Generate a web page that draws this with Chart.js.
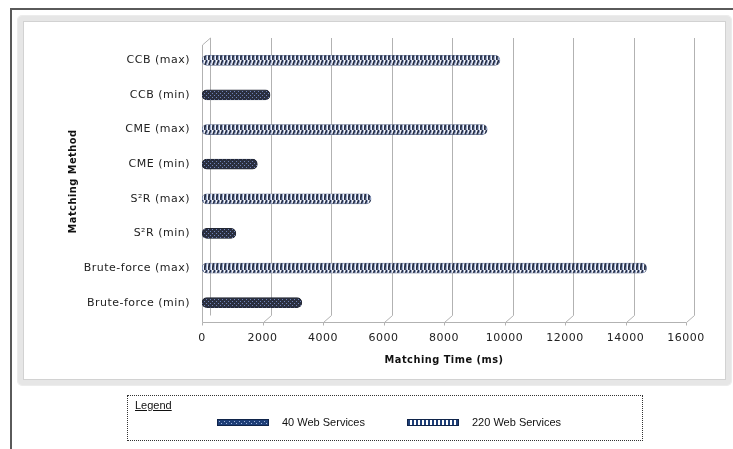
<!DOCTYPE html>
<html>
<head>
<meta charset="utf-8">
<script src="https://cdn.jsdelivr.net/npm/chart.js@4.4.1/dist/chart.umd.min.js"></script>
<style>
  html, body { margin: 0; padding: 0; background: #fff; }
  #wrap { position: relative; width: 733px; height: 449px; overflow: hidden; }
  #outer { position: absolute; left: 10px; top: 8px; width: 740px; height: 460px;
           border-left: 2px solid #5a5a5a; border-top: 2px solid #5a5a5a; }
  #frame { position: absolute; left: 18px; top: 16px; width: 703px; height: 359px;
           border: 5px solid #e6e6e6; border-radius: 4px;
           box-shadow: inset 0 0 0 1px #d2d2d2, 0 0 0 1px #ececec; }
  #chart { position: absolute; left: 0; top: 0; }
  #legend { position: absolute; left: 127px; top: 395px; width: 514px; height: 44px;
            border: 1px dotted #333; font-family: "Liberation Sans", Arial, sans-serif;
            font-size: 11px; color: #111; }
  #legend .title { position: absolute; left: 7px; top: 3px; text-decoration: underline; }
  #legend .item { position: absolute; top: 19px; line-height: 14px; }
  #legend .sw { display: inline-block; width: 52px; height: 7px; vertical-align: middle;
                margin-right: 13px; position: relative; top: -1px; }
</style>
</head>
<body>
<div id="wrap">
  <div id="outer"></div>
  <div id="frame"></div>
  <canvas id="chart" width="733" height="449"></canvas>
  <div id="legend">
    <div class="title">Legend</div>
    <div class="item" style="left:89px"><span class="sw" id="sw40"></span>40 Web Services</div>
    <div class="item" style="left:279px"><span class="sw" id="sw220"></span>220 Web Services</div>
  </div>
</div>
<script>
// Matching methods (top to bottom) and measured matching times in ms
const methods = ['CCB (max)', 'CCB (min)', 'CME (max)', 'CME (min)',
                 'S\u00B2R (max)', 'S\u00B2R (min)', 'Brute-force (max)', 'Brute-force (min)'];
const services40  = [null, 2250, null, 1830, null, 1120, null, 3300];
const services220 = [9850, null, 9430, null, 5590, null, 14700, null];
const seriesNames = ['40 Web Services', '220 Web Services'];
const xTicks = [0, 2000, 4000, 6000, 8000, 10000, 12000, 14000, 16000];

// Fill patterns for the two series
function dotPattern() {
  const c = document.createElement('canvas'); c.width = 4; c.height = 4;
  const g = c.getContext('2d');
  g.fillStyle = '#2a2f3f'; g.fillRect(0, 0, 4, 4);
  g.fillStyle = '#6f82b8'; g.fillRect(0, 1, 1, 1); g.fillRect(2, 3, 1, 1);
  return c;
}
function coilPattern() {
  const c = document.createElement('canvas'); c.width = 4; c.height = 10;
  const g = c.getContext('2d');
  g.fillStyle = '#f4f6fa'; g.fillRect(0, 0, 4, 10);
  g.strokeStyle = '#252d44'; g.lineWidth = 1.8;
  g.beginPath(); g.moveTo(1.0, 10); g.quadraticCurveTo(0.4, 5, 2.8, 0); g.stroke();
  g.strokeStyle = '#7d93c4'; g.lineWidth = 0.8;
  g.beginPath(); g.moveTo(2.4, 10); g.quadraticCurveTo(1.8, 5, 3.9, 0); g.stroke();
  return c;
}
const ctx = document.getElementById('chart').getContext('2d');
const fill40 = ctx.createPattern(dotPattern(), 'repeat');
const fill220 = ctx.createPattern(coilPattern(), 'repeat');

// Legend swatches
(function () {
  const a = document.createElement('canvas'); a.width = 52; a.height = 7;
  const ga = a.getContext('2d');
  ga.fillStyle = '#1f3f78'; ga.fillRect(0, 0, 52, 7);
  ga.fillStyle = '#9fb3dc';
  for (let x = 2; x < 52; x += 5) { ga.fillRect(x, 2, 1, 1); ga.fillRect(x + 2, 4, 1, 1); }
  ga.strokeStyle = '#10244a'; ga.strokeRect(0.5, 0.5, 51, 6);
  const b = document.createElement('canvas'); b.width = 52; b.height = 7;
  const gb = b.getContext('2d');
  gb.fillStyle = '#fff'; gb.fillRect(0, 0, 52, 7);
  gb.fillStyle = '#1f3f78';
  for (let x = 1; x < 52; x += 4) gb.fillRect(x, 0, 2, 7);
  gb.strokeStyle = '#10244a'; gb.strokeRect(0.5, 0.5, 51, 6);
  document.getElementById('sw40').style.background = 'url(' + a.toDataURL() + ')';
  document.getElementById('sw220').style.background = 'url(' + b.toDataURL() + ')';
})();

// Depth offset of the back wall (pseudo-3D look)
const DX = 8, DY = 7;
const wallPlugin = {
  id: 'wall',
  beforeDraw(chart) {
    chart.ctx.letterSpacing = '0.5px';
  },
  beforeDatasetsDraw(chart) {
    const { ctx, chartArea: a, scales: { x } } = chart;
    const floor = a.bottom + 2.5;
    ctx.save();
    ctx.strokeStyle = '#b2b2b2';
    ctx.lineWidth = 1;
    // back grid lines with floor diagonals and small ticks
    xTicks.forEach((v, i) => {
      const px = Math.round(x.getPixelForValue(v)) + 0.5;
      if (i > 0) {
        ctx.beginPath();
        ctx.moveTo(px + DX, a.top - 5);
        ctx.lineTo(px + DX, floor - DY);
        ctx.lineTo(px, floor);
        ctx.stroke();
      }
      ctx.beginPath(); ctx.moveTo(px, floor); ctx.lineTo(px, floor + 3); ctx.stroke();
    });
    // front floor edge
    const x0 = Math.round(x.getPixelForValue(0)) + 0.5;
    const x1 = Math.round(x.getPixelForValue(16000)) + 0.5;
    ctx.beginPath(); ctx.moveTo(x0, floor); ctx.lineTo(x1, floor); ctx.stroke();
    // left side wall
    ctx.beginPath();
    ctx.moveTo(x0, floor);
    ctx.lineTo(x0, a.top + 2);
    ctx.lineTo(x0 + DX, a.top - 5);
    ctx.lineTo(x0 + DX, floor - DY);
    ctx.stroke();
    ctx.restore();
  }
};

new Chart(ctx, {
  type: 'bar',
  data: {
    labels: methods,
    datasets: [
      { label: seriesNames[0], data: services40, backgroundColor: fill40,
        borderColor: '#1d2230', borderWidth: 0.6, borderRadius: 5, borderSkipped: false,
        barThickness: 10 },
      { label: seriesNames[1], data: services220, backgroundColor: fill220,
        borderColor: '#5d6a88', borderWidth: 0.6, borderRadius: 5, borderSkipped: false,
        barThickness: 10 }
    ]
  },
  options: {
    indexAxis: 'y',
    responsive: false,
    animation: false,
    events: [],
    layout: { padding: { left: 66, right: 47, top: 43, bottom: 79 } },
    plugins: { legend: { display: false }, tooltip: { enabled: false } },
    datasets: { bar: { grouped: false } },
    scales: {
      x: {
        min: 0, max: 16000,
        afterBuildTicks: s => { s.ticks = xTicks.map(v => ({ value: v })); },
        afterFit: s => { s.height = 50; },
        grid: { display: false, drawTicks: false },
        border: { display: false },
        ticks: { color: '#222', padding: 12, maxRotation: 0, callback: v => String(v),
                  font: { family: 'DejaVu Sans', size: 11 } },
        title: { display: true, text: 'Matching Time (ms)', color: '#111', padding: { top: 6 },
                 font: { family: 'DejaVu Sans', size: 9.8, weight: 'bold' } }
      },
      y: {
        afterFit: s => { s.width = 202 - 66; },
        grid: { display: false, drawTicks: false },
        border: { display: false },
        ticks: { color: '#222', padding: 12, font: { family: 'DejaVu Sans', size: 11 } },
        title: { display: true, text: 'Matching Method', color: '#111', padding: 2,
                 font: { family: 'DejaVu Sans', size: 9.8, weight: 'bold' } }
      }
    }
  },
  plugins: [wallPlugin]
});
</script>
</body>
</html>
